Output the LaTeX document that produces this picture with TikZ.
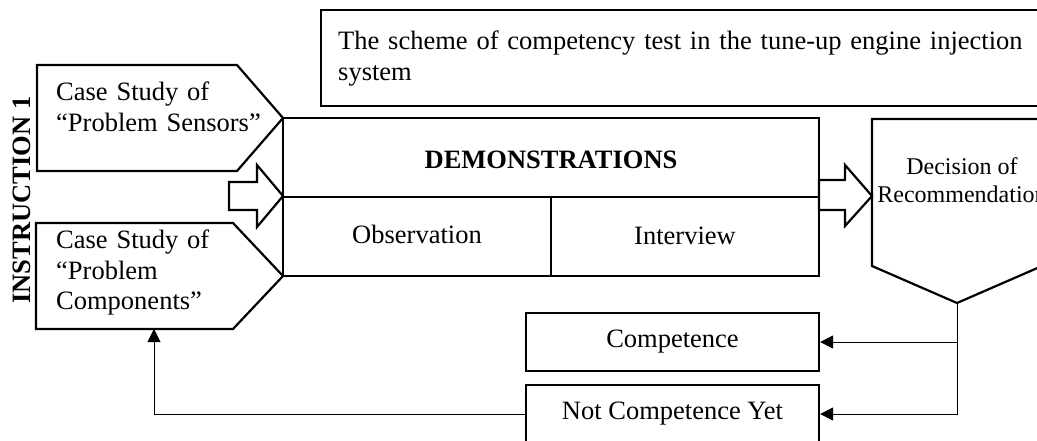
\documentclass[tikz,border=0pt]{standalone}
\usepackage{fontspec}
\setmainfont{Liberation Serif}
\usetikzlibrary{arrows.meta,positioning}

\tikzset{
  thickline/.style={line width=2.2pt, line join=miter},
  thinline/.style={line width=1.2pt},
  conn/.style={line width=0.9pt, -{Triangle[length=13pt,width=13pt]}},
  textblock/.style={anchor=base west, inner sep=0pt, align=left, text width=#1},
  resultbox/.style={draw, line width=2.2pt, minimum width=293pt, minimum height=58pt, inner sep=0pt},
}

\begin{document}
\begin{tikzpicture}[x=1pt, y=-1pt, font=\fontsize{26.5}{31}\selectfont]
        \useasboundingbox (0,0) rectangle (1037,441);
        \clip (0,0) rectangle (1037,441);

        % title
        \draw[thinline] (321,10) rectangle (1060,106);
        \node[textblock=700pt] (title) at (338,50) {The scheme of competency test in the tune-up engine injection\\system};

        % instruction label
        \node[rotate=90, font=\fontsize{26.5}{31}\selectfont\bfseries, inner sep=0pt] (instr) at (22,200) {INSTRUCTION 1};

        % case studies
        \draw[thickline] (37,65) -- (237,65) -- (283,118) -- (237,171) -- (37,171) -- cycle;
        \node[textblock=220pt] (sensors) at (56,101) {Case Study of\\``Problem Sensors''};
        \draw[thickline] (36,223) -- (233,223) -- (283,276) -- (233,329) -- (36,329) -- cycle;
        \node[textblock=220pt] (components) at (56,248) {Case Study of\\``Problem\\Components''};
        \coordinate (compin) at (154,329);

        % block arrows
        \draw[thickline] (229,182) -- (257,182) -- (257,165) -- (283,196) -- (257,227) -- (257,210) -- (229,210) -- cycle;
        \draw[thickline] (819,180) -- (845,180) -- (845,165) -- (872,196) -- (845,226) -- (845,210) -- (819,210) -- cycle;

        % demonstrations
        \draw[thickline] (283,118) rectangle (819,276);
        \draw[thinline] (283,197) -- (819,197);
        \draw[thinline] (551,197) -- (551,276);
        \node[font=\fontsize{26.5}{31}\selectfont\bfseries] (demo) at (551,160) {DEMONSTRATIONS};
        \node (obs) at (417,234) {Observation};
        \node (intv) at (685,236) {Interview};

        % decision
        \draw[thickline] (872,119) -- (1042,119) -- (1042,266) -- (957,303) -- (872,266) -- cycle;
        \node[font=\fontsize{24}{28}\selectfont, align=center] (decision) at (962,180) {Decision of\\Recommendation};
        \coordinate (dec) at (957,303);

        % results
        \node[resultbox] (comp) at (672.5,342) {Competence};
        \node[resultbox] (notyet) at (672.5,414) {Not Competence Yet};

        \draw[conn] (dec) |- (comp.east);
        \draw[conn] (dec) |- (notyet.east);
        \draw[conn] (notyet.west) -| (compin);
    \end{tikzpicture}
\end{document}
